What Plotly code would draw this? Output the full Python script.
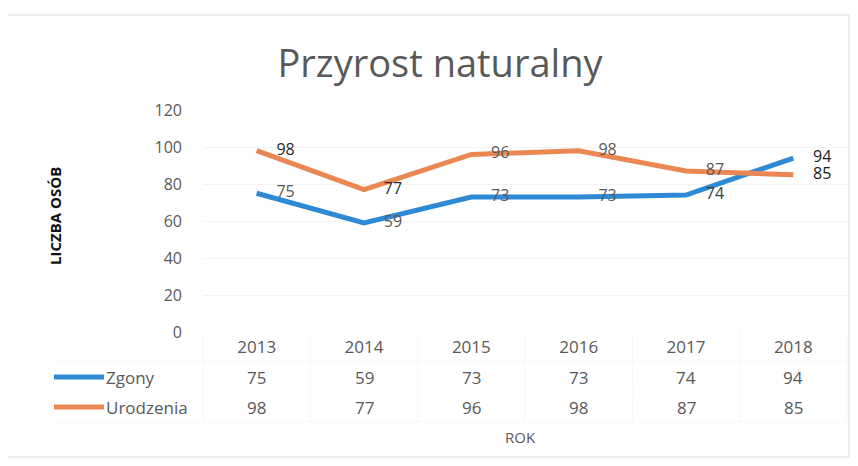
import plotly.graph_objects as go

years = ["2013", "2014", "2015", "2016", "2017", "2018"]
zgony = [75, 59, 73, 73, 74, 94]
urodzenia = [98, 77, 96, 98, 87, 85]
y_ticks = [0, 20, 40, 60, 80, 100, 120]

BLUE = "#2E8AD4"
ORANGE = "#EA8753"
GRAY = "#595959"
FONT = "Open Sans"

# page body has an 8px margin: work in reference-pixel coords and shift by 8
OFF = 8
W, H = 842, 450
PL, PR, PT, PB = 203, 847, 110, 332          # plot area in reference pixels
L, R, T, B = PL - OFF, W - (PR - OFF), PT - OFF, H - (PB - OFF)
PW, PH = W - L - R, H - T - B


def px_x(p):
    return (p - OFF - L) / PW


def px_y(p):
    return (H - B - (p - OFF)) / PH


fig = go.Figure()
fig.add_trace(go.Scatter(
    x=years, y=zgony, mode="lines+markers+text", name="Zgony",
    line=dict(color=BLUE, width=5),
    marker=dict(size=30, color="rgba(0,0,0,0)"),
    text=[str(v) for v in zgony], textposition="middle right",
    textfont=dict(family=FONT, size=16,
                  color=[GRAY, GRAY, GRAY, GRAY, "#3a3a3a", "#1a1a1a"]),
    cliponaxis=False, showlegend=False, hoverinfo="skip",
))
fig.add_trace(go.Scatter(
    x=years, y=urodzenia, mode="lines+markers+text", name="Urodzenia",
    line=dict(color=ORANGE, width=5),
    marker=dict(size=30, color="rgba(0,0,0,0)"),
    text=[str(v) for v in urodzenia], textposition="middle right",
    textfont=dict(family=FONT, size=16,
                  color=["#2a2a2a", "#2a2a2a", GRAY, GRAY, GRAY, "#1a1a1a"]),
    cliponaxis=False, showlegend=False, hoverinfo="skip",
))

fig.update_layout(
    width=W, height=H,
    margin=dict(l=L, r=R, t=T, b=B),
    paper_bgcolor="white", plot_bgcolor="white",
    title=dict(text="Przyrost naturalny", xref="container", x=(440 - OFF) / W,
               xanchor="center", yref="container", y=1 - (64 - OFF) / H,
               yanchor="middle",
               font=dict(family=FONT, size=38, color=GRAY)),
    xaxis=dict(type="category", range=[-0.5, 5.5], showgrid=False,
               showline=False, zeroline=False, ticks="",
               tickfont=dict(family=FONT, size=17, color=GRAY),
               ticklabelstandoff=3),
    yaxis=dict(range=[0, 120], tickvals=y_ticks, showgrid=True,
               gridcolor="#f3f3f3", gridwidth=1, zeroline=False,
               showline=False, ticks="",
               tickfont=dict(family=FONT, size=16, color=GRAY),
               ticklabelstandoff=20),
    showlegend=False,
)

annotations = []
annotations.append(dict(text="<b>LICZBA OSÓB</b>", textangle=-90,
                        xref="paper", yref="paper", x=px_x(55), y=px_y(216),
                        showarrow=False, xanchor="center", yanchor="middle",
                        font=dict(family=FONT, size=15, color="#111111")))
rows = [("Zgony", zgony, 377, BLUE), ("Urodzenia", urodzenia, 407, ORANGE)]
for name, vals, ypix, col in rows:
    annotations.append(dict(text=name, xref="paper", yref="paper",
                            x=px_x(104), y=px_y(ypix), showarrow=False,
                            xanchor="left", yanchor="middle",
                            font=dict(family=FONT, size=17, color=GRAY)))
    for i, v in enumerate(vals):
        annotations.append(dict(text=str(v), xref="x", yref="paper",
                                x=i, y=px_y(ypix), showarrow=False,
                                xanchor="center", yanchor="middle",
                                font=dict(family=FONT, size=17, color=GRAY)))
    fig.add_shape(type="line", xref="paper", yref="paper",
                  x0=px_x(54), x1=px_x(104), y0=px_y(ypix), y1=px_y(ypix),
                  line=dict(color=col, width=5))
annotations.append(dict(text="ROK", xref="paper", yref="paper",
                        x=px_x(520), y=px_y(437), showarrow=False,
                        xanchor="center", yanchor="middle",
                        font=dict(family=FONT, size=15, color=GRAY)))
fig.update_layout(annotations=annotations)

# faint data table grid
for i in range(7):
    xp = px_x(PL + i * (PR - PL) / 6)
    fig.add_shape(type="line", xref="paper", yref="paper",
                  x0=xp, x1=xp, y0=px_y(PB), y1=px_y(422),
                  line=dict(color="#f7f7f7", width=1), layer="below")
for ypix in [362, 392, 422]:
    fig.add_shape(type="line", xref="paper", yref="paper",
                  x0=px_x(50), x1=1, y0=px_y(ypix), y1=px_y(ypix),
                  line=dict(color="#f7f7f7", width=1), layer="below")
# chart frame
fig.add_shape(type="rect", xref="paper", yref="paper",
              x0=px_x(5), x1=px_x(849), y0=px_y(457), y1=px_y(15),
              line=dict(color="#dcdcdc", width=1), layer="below")

fig.write_html("out.html")
